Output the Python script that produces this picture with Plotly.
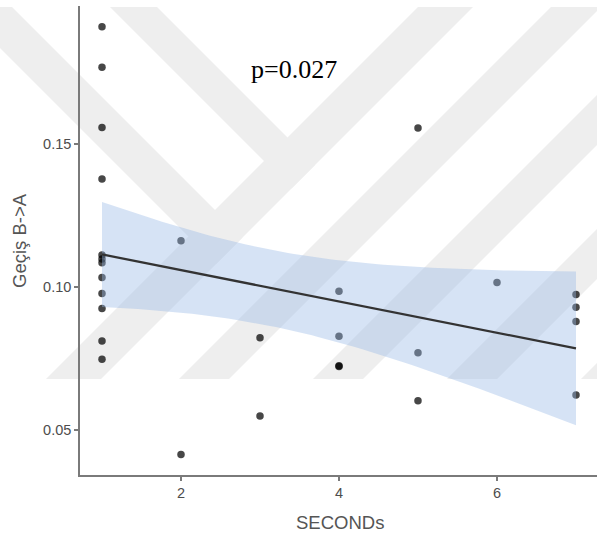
import numpy as np
import plotly.graph_objects as go

# ---------------- data ----------------
seconds = [1, 1, 1, 1, 1, 1, 1, 1, 1, 1, 1, 1,
           2, 2,
           3, 3,
           4, 4, 4, 4,
           5, 5, 5,
           6,
           7, 7, 7, 7]
gecis = [0.1910, 0.1768, 0.1558, 0.1378, 0.1112, 0.1098, 0.1085, 0.1033, 0.0977, 0.0925, 0.0811, 0.0747,
         0.1162, 0.0414,
         0.0823, 0.0549,
         0.0985, 0.0828, 0.0725, 0.0722,
         0.1556, 0.0770, 0.0602,
         0.1016,
         0.0974, 0.0929, 0.0879, 0.0622]
x_tick_vals = [2, 4, 6]
y_tick_vals = [0.05, 0.10, 0.15]
y_tick_text = ["0.05", "0.10", "0.15"]
x_title = "SECONDs"
y_title = "Geçiş B->A"
p_label = "p=0.027"
T_CRIT = 2.0555  # t quantile 0.975, df = n - 2 = 26

# ---------------- linear fit with 95% CI (as geom_smooth(method="lm")) ----------------
x = np.array(seconds, dtype=float)
y = np.array(gecis, dtype=float)
n = len(x)
xm = x.mean()
sxx = ((x - xm) ** 2).sum()
slope = ((x - xm) * (y - y.mean())).sum() / sxx
icpt = y.mean() - slope * xm
resid = y - (icpt + slope * x)
s = np.sqrt((resid ** 2).sum() / (n - 2))
xs = np.linspace(x.min(), x.max(), 80)
fit = icpt + slope * xs
se = s * np.sqrt(1.0 / n + (xs - xm) ** 2 / sxx)
lo = fit - T_CRIT * se
hi = fit + T_CRIT * se

# ---------------- figure ----------------
W, H = 597, 540
ML, MR, MT, MB = 80, 0, 6, 65
PW, PH = W - ML - MR, H - MT - MB


def pxp(px, py):
    return (px - ML) / PW, (H - MB - py) / PH


def poly_path(pts):
    parts = []
    for i, (px, py) in enumerate(pts):
        u, v = pxp(px, py)
        parts.append(("M" if i == 0 else "L") + f"{u:.4f},{v:.4f}")
    return " ".join(parts) + " Z"


# background watermark (decorative light-grey stripes)
wm_polys = [
    [(-41, 7), (12, 7), (242.5, 237.5), (216, 264)],
    [(110, 7), (157, 7), (315, 165), (291.5, 188.5)],
]
for c, w in [(425, 55), (558, 50), (692, 50), (826, 50), (960, 50)]:
    wm_polys.append([(c - 7, 7), (c + w - 7, 7), (c + w - 379, 379), (c - 379, 379)])

shapes = [dict(type="path", xref="paper", yref="paper", path=poly_path(p),
               fillcolor="#eeeeee", line=dict(width=0), layer="below")
          for p in wm_polys]

fig = go.Figure()
fig.add_trace(go.Scatter(x=seconds, y=gecis, mode="markers",
                         marker=dict(size=7.5, color="rgba(0,0,0,0.72)", line=dict(width=0)),
                         hoverinfo="skip", showlegend=False))
fig.add_trace(go.Scatter(x=np.concatenate([xs, xs[::-1]]), y=np.concatenate([hi, lo[::-1]]),
                         fill="toself", fillcolor="rgba(153,185,230,0.4)", mode="lines",
                         line=dict(width=0), hoverinfo="skip", showlegend=False))
fig.add_trace(go.Scatter(x=xs, y=fit, mode="lines", line=dict(color="#333333", width=2.3),
                         hoverinfo="skip", showlegend=False))

axis_common = dict(showgrid=False, zeroline=False, showline=True, linecolor="#7a7a7a", linewidth=1.5,
                   ticks="outside", ticklen=4, tickwidth=1.5, tickcolor="#7a7a7a",
                   tickfont=dict(family="Liberation Sans, Arial, sans-serif", size=14.5, color="#4d4d4d"))

fig.update_layout(
    width=W, height=H,
    margin=dict(l=ML, r=MR, t=MT, b=MB, pad=0),
    paper_bgcolor="white", plot_bgcolor="rgba(0,0,0,0)",
    shapes=shapes,
    xaxis=dict(range=[0.7215, 7.266], tickvals=x_tick_vals, **axis_common),
    yaxis=dict(range=[0.03427, 0.19825], tickvals=y_tick_vals, ticktext=y_tick_text, **axis_common),
    annotations=[
        dict(x=3.43, y=0.176, xref="x", yref="y", text=p_label, showarrow=False,
             xanchor="center", yanchor="middle",
             font=dict(family="Liberation Serif, Times New Roman, serif", size=26, color="black")),
        dict(x=pxp(340, 522)[0], y=pxp(340, 522)[1], xref="paper", yref="paper", text=x_title,
             showarrow=False, xanchor="center", yanchor="middle",
             font=dict(family="Liberation Sans, Arial, sans-serif", size=18.5, color="#555555")),
        dict(x=pxp(19, 241)[0], y=pxp(19, 241)[1], xref="paper", yref="paper", text=y_title,
             showarrow=False, textangle=-90, xanchor="center", yanchor="middle",
             font=dict(family="Liberation Sans, Arial, sans-serif", size=18.5, color="#555555")),
    ],
)

fig.write_html("out.html", config={"displayModeBar": False},
               post_script="document.body.style.margin='0';document.body.style.overflow='hidden';")
